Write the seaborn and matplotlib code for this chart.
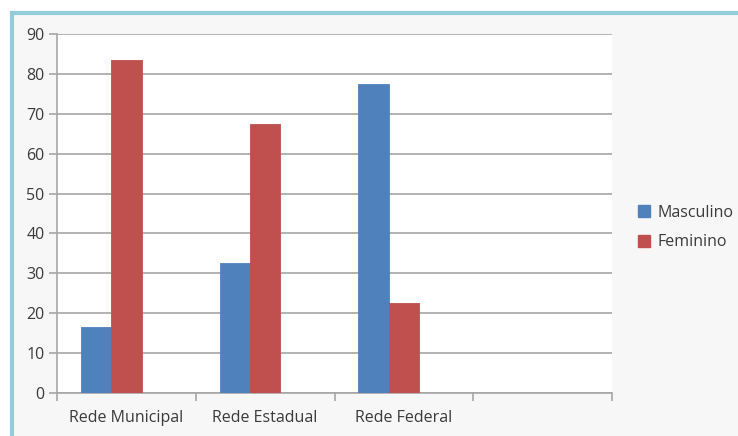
import pandas as pd
import matplotlib.pyplot as plt
import matplotlib.patches as mpatches
import seaborn as sns

# Chart data
categories = ['Rede Municipal', 'Rede Estadual', 'Rede Federal']
masculino = [16.5, 32.5, 77.5]
feminino = [83.5, 67.5, 22.5]
series = ['Masculino', 'Feminino']
colors = ['#4f81bd', '#c0504d']
y_ticks = list(range(0, 100, 10))

df = pd.DataFrame({
    'rede': categories * 2,
    'valor': masculino + feminino,
    'sexo': [series[0]] * 3 + [series[1]] * 3,
})

sns.set_theme(style="white")
plt.rcParams['font.family'] = ['Open Sans', 'DejaVu Sans']
FS = 11.5
TXT = '#3a3a3a'

fig = plt.figure(figsize=(7.38, 4.36), dpi=100)
fig.patch.set_facecolor('white')

# chart frame like the Excel chart area (drawn behind the axes)
frame = mpatches.Rectangle((11.5 / 738, -0.1), 1.2, 1 - 13.5 / 436 + 0.1,
                           transform=fig.transFigure, facecolor='#f7f7f7',
                           edgecolor='#92cddc', linewidth=3, zorder=-1)
fig.patches.append(frame)

ax = fig.add_axes([57 / 738, 1 - 393 / 436, (612 - 57) / 738, (393 - 34) / 436])
ax.set_facecolor('white')

# third (empty) hue level keeps the Excel group spacing
order = categories + ['']
sns.barplot(data=df, x='rede', y='valor', hue='sexo', order=order,
            hue_order=series + ['_vazio'], palette=colors + ['#ffffff'],
            width=0.655, saturation=1, linewidth=0.6,
            legend=False, ax=ax, zorder=3)
for bar in ax.patches:
    bar.set_edgecolor(bar.get_facecolor())
    bar.set_alpha(1)

ax.set_xlim(-0.5, 3.5)
ax.set_ylim(0, 90)
ax.set_yticks(y_ticks)
ax.yaxis.grid(True, color='#a6a6a6', linewidth=1.2)
ax.set_axisbelow(True)

ax.set_xticks([-0.5, 0.5, 1.5, 2.5, 3.5])
ax.set_xticklabels([])
ax.set_xticks([0, 1, 2, 3], minor=True)
ax.set_xticklabels(order, minor=True)
ax.tick_params(axis='x', which='major', direction='out', length=6, width=1.2,
               color='#a6a6a6', bottom=True)
ax.tick_params(axis='x', which='minor', length=0, pad=12, labelsize=FS,
               labelcolor=TXT)
ax.tick_params(axis='y', direction='out', length=6, width=1.2, color='#a6a6a6',
               left=True, labelsize=FS, labelcolor=TXT, pad=3)

for side in ['top', 'right']:
    ax.spines[side].set_visible(False)
for side in ['left', 'bottom']:
    ax.spines[side].set_color('#a6a6a6')
    ax.spines[side].set_linewidth(1.2)

ax.set_xlabel('')
ax.set_ylabel('')

handles = [mpatches.Patch(color=c, label=s) for c, s in zip(colors, series)]
fig.legend(handles=handles, loc='center left', bbox_to_anchor=(624 / 738, 1 - 227.5 / 436),
           frameon=False, fontsize=FS, handlelength=0.75, handleheight=0.75,
           handletextpad=0.45, labelspacing=0.85, labelcolor=TXT)

fig.savefig('out.png', dpi=100, facecolor=fig.get_facecolor())
